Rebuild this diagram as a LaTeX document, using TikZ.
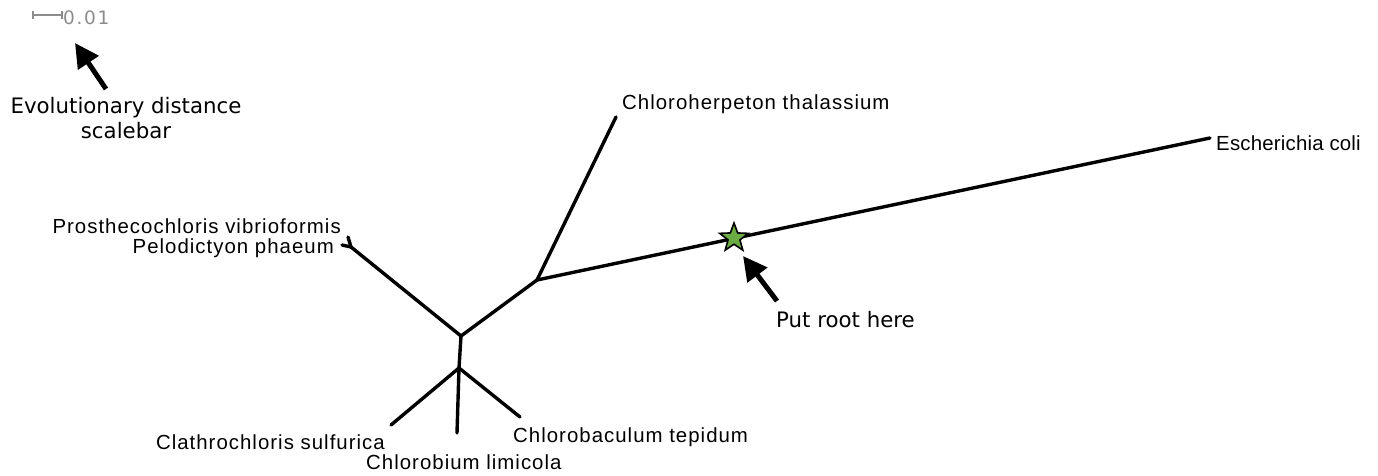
\documentclass[tikz,border=0pt]{standalone}
\usepackage{fontspec}
\setmainfont{Liberation Sans}
\newfontfamily\annfont{DejaVu Sans}
\usetikzlibrary{arrows.meta,shapes.geometric}
\definecolor{scalegray}{HTML}{8C8C8C}
\definecolor{stargreen}{HTML}{6AAB44}
\tikzset{
  branch/.style={line width=3.4pt, line cap=round},
  taxon/.style={font=\fontsize{20.4}{24}\selectfont\addfontfeature{LetterSpace=5}, inner sep=0pt},
  annot/.style={font=\annfont\fontsize{21.3}{25}\selectfont, inner sep=0pt},
  bigarrow/.style={line width=5pt, -{Triangle[length=24pt,width=24pt]}},
}
\begin{document}
\begin{tikzpicture}[x=1pt,y=-1pt]
\useasboundingbox (0,0) rectangle (1378,476);
% scale bar
\coordinate (sb1) at (33,15);
\coordinate (sb2) at (62,15);
\draw[scalegray, line width=1.2pt] (sb1) -- (sb2);
\draw[scalegray, line width=1.2pt] ([yshift=-4]sb1) -- ([yshift=4]sb1);
\draw[scalegray, line width=1.2pt] ([yshift=-4]sb2) -- ([yshift=4]sb2);
\node[annot, text=scalegray, font=\annfont\fontsize{18.5}{20}\selectfont\addfontfeature{LetterSpace=9}, anchor=west] (sblabel) at (63,18) {0.01};
% annotation for scale bar
\node[annot, align=center] (evo) at (126,118) {Evolutionary distance\\scalebar};
\coordinate (a1tail) at (106,89);
\coordinate (a1tip) at (75,43);
\draw[bigarrow] (a1tail) -- (a1tip);
% tree nodes
\coordinate (A) at (537,280);
\coordinate (B) at (461,336);
\coordinate (C) at (459,368);
\coordinate (P) at (351,247);
\coordinate (tCh) at (616,117);
\coordinate (tEc) at (1210,138);
\coordinate (tPv) at (348,237);
\coordinate (tPp) at (342,245);
\coordinate (tCs) at (391,425);
\coordinate (tCl) at (457,433);
\coordinate (tCt) at (520,417);
\draw[branch] (A) -- (tCh);
\draw[branch] (A) -- (tEc);
\draw[branch] (A) -- (B);
\draw[branch] (B) -- (P);
\draw[branch] (P) -- (tPv);
\draw[branch] (P) -- (tPp);
\draw[branch] (B) -- (C);
\draw[branch] (C) -- (tCs);
\draw[branch] (C) -- (tCl);
\draw[branch] (C) -- (tCt);
% labels
\node[taxon, anchor=west] (lCh) at (622,104) {Chloroherpeton thalassium};
\node[taxon, anchor=west, font=\fontsize{20.4}{24}\selectfont\addfontfeature{LetterSpace=1}] (lEc) at (1216,143) {Escherichia coli};
\node[taxon, anchor=east] (lPv) at (341,226) {Prosthecochloris vibrioformis};
\node[taxon, anchor=east] (lPp) at (334,248) {Pelodictyon phaeum};
\node[taxon, anchor=east] (lCs) at (385,442) {Clathrochloris sulfurica};
\node[taxon, anchor=west] (lCl) at (366,462) {Chlorobium limicola};
\node[taxon, anchor=west] (lCt) at (513,437) {Chlorobaculum tepidum};
% root star
\node[star, star points=5, star point ratio=2.4, minimum size=30pt, inner sep=0pt, fill=stargreen, draw=black, line width=1.6pt] (root) at (734,238) {};
\coordinate (a2tail) at (777,301);
\coordinate (a2tip) at (743,256);
\draw[bigarrow] (a2tail) -- (a2tip);
\node[annot, anchor=west] (put) at (776,320) {Put root here};
\end{tikzpicture}
\end{document}
